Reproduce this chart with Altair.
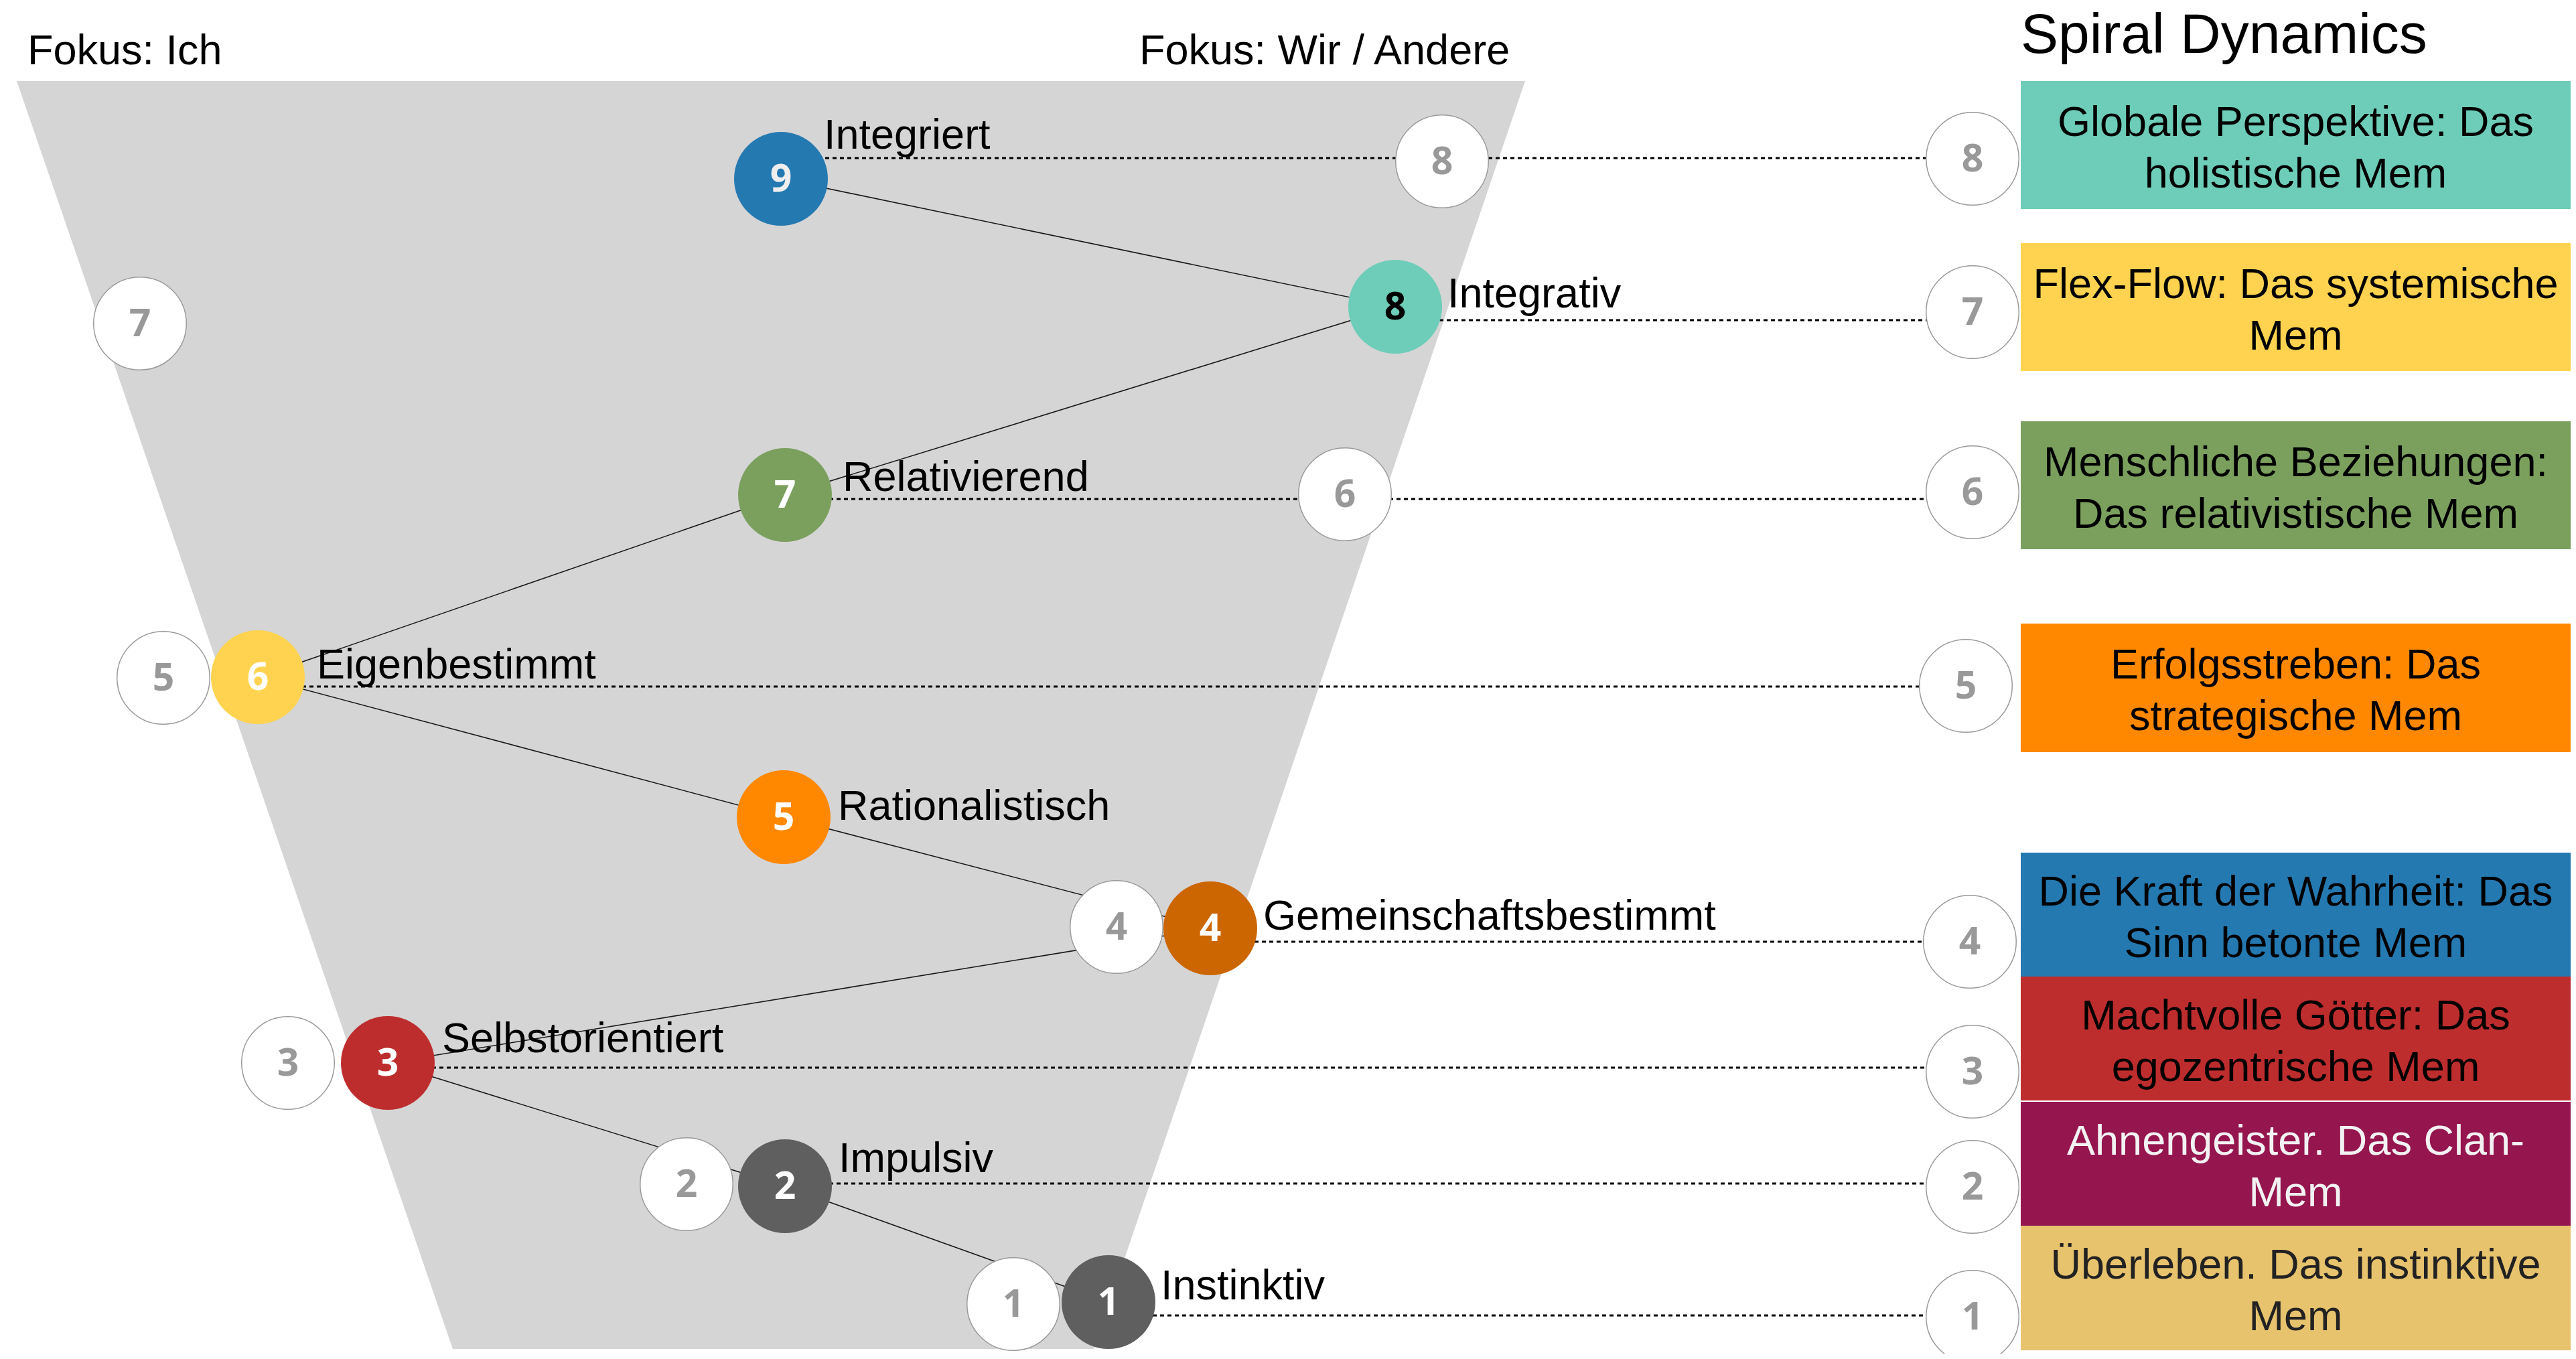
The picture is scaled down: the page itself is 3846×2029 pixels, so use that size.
import altair as alt
import pandas as pd

# ---- coordinate frame (page pixels of the diagram) ----
W, H = 3830, 2013
X_DOM = [8, 3838]
Y_DOM = [8, 2021]

# ---- funnel (grey trapezoid) ----
funnel_y = [121, 2014]
funnel_left = [25, 676]
funnel_right = [2277, 1633]

# ---- coloured level nodes ----
node_num = ["9", "8", "7", "6", "5", "4", "3", "2", "1"]
node_x = [1166, 2083, 1172, 385, 1170, 1807, 579, 1172, 1655]
node_y = [267, 458, 739, 1011, 1220, 1386, 1587, 1771, 1944]
node_fill = ["#2479B1", "#6DCDB8", "#7BA05E", "#FFD34F", "#FF8800",
             "#CC6600", "#BE2D2E", "#5F5F5F", "#5F5F5F"]
node_num_color = ["#EEEEEE", "#000000", "#FFFFFF", "#FFFFFF", "#FFFFFF",
                  "#FFFFFF", "#FFFFFF", "#FFFFFF", "#FFFFFF"]
node_label = ["Integriert", "Integrativ", "Relativierend", "Eigenbestimmt",
              "Rationalistisch", "Gemeinschaftsbestimmt", "Selbstorientiert",
              "Impulsiv", "Instinktiv"]
label_x = [1230, 2161, 1258, 473, 1251, 1886, 660, 1252, 1733]
label_y = [222, 459, 733, 1013, 1224, 1388, 1571, 1750, 1940]

# ---- white (outlined) circles inside the funnel ----
inner_num = ["8", "7", "6", "5", "4", "3", "2", "1"]
inner_x = [2153, 209, 2008, 244, 1667, 430, 1025, 1513]
inner_y = [241, 483, 738, 1012, 1384, 1587, 1768, 1947]

# ---- white circles in front of the Spiral Dynamics boxes ----
right_num = ["8", "7", "6", "5", "4", "3", "2", "1"]
right_x = [2945, 2945, 2945, 2935, 2941, 2945, 2945, 2945]
right_y = [237, 466, 735, 1024, 1406, 1600, 1772, 1966]

# ---- dotted guide lines ----
dot_y = [236, 478, 745, 1025, 1406, 1594, 1767, 1964]
dot_x_start = [1166, 2083, 1172, 385, 1807, 579, 1172, 1655]

# ---- Spiral Dynamics boxes ----
box_x0, box_x1 = 3017, 3838
box_top = [121, 363, 629, 931, 1273, 1458, 1645, 1830]
box_bottom = [312, 554, 820, 1123, 1458, 1643, 1830, 2016]
box_fill = ["#6DCDB8", "#FFD34F", "#7BA05E", "#FF8800", "#2479B1",
            "#BE2D2E", "#95154F", "#E8C36E"]
box_text_color = ["#000000", "#000000", "#000000", "#000000", "#000000",
                  "#000000", "#F2F2F2", "#222222"]
box_text = [
    "Globale Perspektive: Das\nholistische Mem",
    "Flex-Flow: Das systemische\nMem",
    "Menschliche Beziehungen:\nDas relativistische Mem",
    "Erfolgsstreben: Das\nstrategische Mem",
    "Die Kraft der Wahrheit: Das\nSinn betonte Mem",
    "Machtvolle Götter: Das\negozentrische Mem",
    "Ahnengeister. Das Clan-\nMem",
    "Überleben. Das instinktive\nMem",
]

# ---- headers ----
head_text = ["Fokus: Ich", "Fokus: Wir / Andere"]
head_x = [41, 1701]
head_y = [96, 96]
title_text = ["Spiral Dynamics"]
title_x = [3017]
title_y = [13]   # top of the text line (baseline lands at ~79)

# ================= build tables =================
xs = alt.Scale(domain=X_DOM, nice=False, zero=False)
ys = alt.Scale(domain=Y_DOM, nice=False, zero=False, reverse=True)


def X(f):
    return alt.X(f, type="quantitative", scale=xs, axis=None)


def Y(f):
    return alt.Y(f, type="quantitative", scale=ys, axis=None)


funnel_df = pd.DataFrame({"y": funnel_y, "xl": funnel_left, "xr": funnel_right})
nodes_df = pd.DataFrame({"num": node_num, "x": node_x, "y": node_y,
                         "fill": node_fill, "tc": node_num_color,
                         "label": node_label, "lx": label_x, "ly": label_y})
edges_df = pd.DataFrame({"x": node_x[:-1], "y": node_y[:-1],
                         "x2": node_x[1:], "y2": node_y[1:]})
white_df = pd.DataFrame({"num": inner_num + right_num,
                         "x": inner_x + right_x, "y": inner_y + right_y})
dots_df = pd.DataFrame({"y": dot_y, "x": dot_x_start, "x2": right_x})
box_df = pd.DataFrame({"x": [box_x0] * 8, "x2": [box_x1] * 8,
                       "y": box_top, "y2": box_bottom, "fill": box_fill,
                       "tc": box_text_color, "txt": box_text,
                       "cx": [(box_x0 + box_x1) / 2] * 8,
                       "cy": [(a + b) / 2 for a, b in zip(box_top, box_bottom)]})
head_df = pd.DataFrame({"t": head_text, "x": head_x, "y": head_y})
title_df = pd.DataFrame({"t": title_text, "x": title_x, "y": title_y})

FONT = "Liberation Sans"
NUMFONT = "Open Sans"

funnel = alt.Chart(funnel_df).mark_area(orient="horizontal", color="#D5D5D5").encode(
    y=Y("y"), x=X("xl"), x2="xr")

edges = alt.Chart(edges_df).mark_rule(color="#1A1A1A", strokeWidth=1.6).encode(
    x=X("x"), y=Y("y"), x2="x2", y2="y2")

dots = alt.Chart(dots_df).mark_rule(color="#000000", strokeWidth=3.2,
                                    strokeDash=[6, 5]).encode(
    x=X("x"), x2="x2", y=Y("y"))

white_c = alt.Chart(white_df).mark_circle(
    size=19182, opacity=1, fill="#FFFFFF", stroke="#9A9A9A", strokeWidth=1.5).encode(
    x=X("x"), y=Y("y"))

white_t = alt.Chart(white_df).mark_text(
    font=NUMFONT, fontWeight="bold", fontSize=57, color="#999999",
    baseline="middle", align="center", dy=2).encode(
    x=X("x"), y=Y("y"), text="num:N")

col_c = alt.Chart(nodes_df).mark_circle(size=19600, opacity=1).encode(
    x=X("x"), y=Y("y"), color=alt.Color("fill:N", scale=None))

col_t = alt.Chart(nodes_df).mark_text(
    font=NUMFONT, fontWeight="bold", fontSize=57,
    baseline="middle", align="center", dy=2).encode(
    x=X("x"), y=Y("y"), text="num:N", color=alt.Color("tc:N", scale=None))

labels = alt.Chart(nodes_df).mark_text(
    font=FONT, fontSize=63, color="#000000", align="left", baseline="alphabetic").encode(
    x=X("lx"), y=Y("ly"), text="label:N")

boxes = alt.Chart(box_df).mark_rect(opacity=1).encode(
    x=X("x"), x2="x2", y=Y("y"), y2="y2", color=alt.Color("fill:N", scale=None))

box_t = alt.Chart(box_df).mark_text(
    font=FONT, fontSize=63, align="center", baseline="middle", lineHeight=77,
    lineBreak="\n", dy=-33).encode(
    x=X("cx"), y=Y("cy"), text="txt:N", color=alt.Color("tc:N", scale=None))

heads = alt.Chart(head_df).mark_text(
    font=FONT, fontSize=63, color="#000000", align="left", baseline="alphabetic").encode(
    x=X("x"), y=Y("y"), text="t:N")

title = alt.Chart(title_df).mark_text(
    font=FONT, fontSize=84, color="#000000", align="left", baseline="top").encode(
    x=X("x"), y=Y("y"), text="t:N")

chart = alt.layer(
    funnel, edges, dots, white_c, white_t, col_c, col_t, labels,
    boxes, box_t, heads, title
).properties(
    width=W, height=H, padding=0, autosize=alt.AutoSizeParams(type="none")
).configure_view(stroke=None)

chart.save("out.html", embed_options={"renderer": "svg", "actions": False})
